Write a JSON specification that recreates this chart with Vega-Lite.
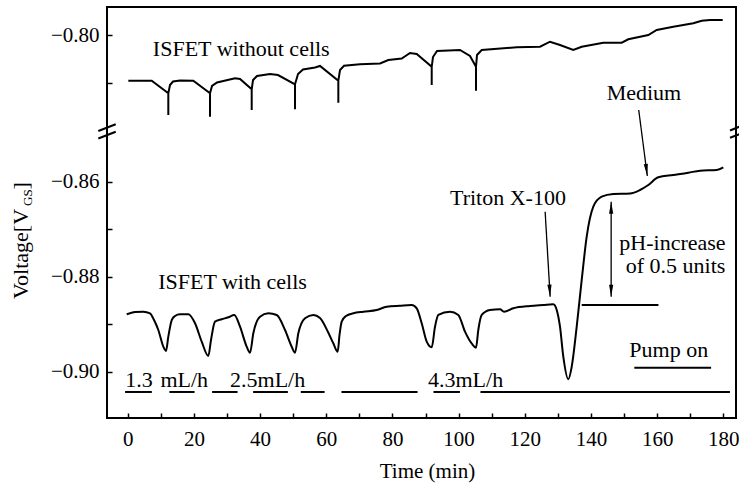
{
  "$schema": "https://vega.github.io/schema/vega-lite/v6.json",
  "width": 629,
  "height": 411,
  "autosize": {"type": "none"},
  "padding": {"left": 107, "top": 7, "right": 3, "bottom": 67},
  "config": {
    "font": "Liberation Serif",
    "view": {"stroke": "#000", "strokeWidth": 2},
    "axis": {
      "domain": false, "grid": false,
      "tickColor": "#000", "tickWidth": 1.5,
      "labelColor": "#000", "labelFontSize": 21, "labelFont": "Liberation Serif",
      "titleFont": "Liberation Serif", "titleColor": "#000", "titleFontSize": 21, "titleFontWeight": "normal"
    },
    "text": {"font": "Liberation Serif", "fontSize": 22, "color": "#000"}
  },
  "datasets": {
    "withoutCells": [
      {"t": 0.18, "v": -0.80956}, {"t": 7.25, "v": -0.80956}, {"t": 12.27, "v": -0.81221}, {"t": 12.27, "v": -0.81678},
      {"t": 12.27, "v": -0.81221}, {"t": 12.78, "v": -0.81046}, {"t": 13.69, "v": -0.80973}, {"t": 15.81, "v": -0.80952},
      {"t": 19.82, "v": -0.80956}, {"t": 24.87, "v": -0.81221}, {"t": 24.87, "v": -0.81714}, {"t": 24.87, "v": -0.81221},
      {"t": 25.48, "v": -0.81067}, {"t": 26.99, "v": -0.80994}, {"t": 32.43, "v": -0.80905}, {"t": 33.94, "v": -0.8092},
      {"t": 37.47, "v": -0.81137}, {"t": 37.47, "v": -0.81573}, {"t": 37.47, "v": -0.81137}, {"t": 37.87, "v": -0.80941},
      {"t": 39.08, "v": -0.80857}, {"t": 43.0, "v": -0.80815}, {"t": 45.42, "v": -0.80836}, {"t": 50.56, "v": -0.81032},
      {"t": 50.56, "v": -0.81558}, {"t": 50.56, "v": -0.81032}, {"t": 51.47, "v": -0.80815}, {"t": 52.98, "v": -0.8072},
      {"t": 56.61, "v": -0.80678}, {"t": 58.11, "v": -0.80646}, {"t": 63.65, "v": -0.80956}, {"t": 63.65, "v": -0.81419},
      {"t": 63.65, "v": -0.80956}, {"t": 64.16, "v": -0.80731}, {"t": 65.37, "v": -0.8064}, {"t": 70.2, "v": -0.80611},
      {"t": 76.25, "v": -0.80594}, {"t": 78.76, "v": -0.8052}, {"t": 82.8, "v": -0.80488}, {"t": 85.31, "v": -0.80373},
      {"t": 87.34, "v": -0.80394}, {"t": 91.87, "v": -0.80661}, {"t": 91.87, "v": -0.81046}, {"t": 91.87, "v": -0.80661},
      {"t": 92.26, "v": -0.80457}, {"t": 93.47, "v": -0.80331}, {"t": 100.42, "v": -0.80309}, {"t": 103.44, "v": -0.80436},
      {"t": 105.26, "v": -0.80661}, {"t": 105.26, "v": -0.81166}, {"t": 105.26, "v": -0.80661}, {"t": 105.56, "v": -0.80415},
      {"t": 106.98, "v": -0.80309}, {"t": 117.56, "v": -0.80253}, {"t": 124.6, "v": -0.8024}, {"t": 127.62, "v": -0.80135},
      {"t": 130.64, "v": -0.80204}, {"t": 134.66, "v": -0.80309}, {"t": 137.2, "v": -0.8024}, {"t": 143.73, "v": -0.80156},
      {"t": 149.29, "v": -0.80156}, {"t": 151.28, "v": -0.80084}, {"t": 157.33, "v": -0.79994}, {"t": 159.87, "v": -0.79888},
      {"t": 164.88, "v": -0.79819}, {"t": 170.93, "v": -0.79747}, {"t": 173.47, "v": -0.79693}, {"t": 175.98, "v": -0.79678},
      {"t": 179.81, "v": -0.79678}
    ],
    "withCells": [
      {"t": -0.3, "v": -0.88792}, {"t": 2.21, "v": -0.88743}, {"t": 4.71, "v": -0.88737}, {"t": 6.74, "v": -0.88771},
      {"t": 7.95, "v": -0.88912}, {"t": 9.25, "v": -0.89122}, {"t": 10.76, "v": -0.89474}, {"t": 11.57, "v": -0.89564},
      {"t": 12.27, "v": -0.89263}, {"t": 13.3, "v": -0.88912}, {"t": 14.29, "v": -0.88827}, {"t": 15.81, "v": -0.88792},
      {"t": 18.31, "v": -0.88792}, {"t": 20.34, "v": -0.88981}, {"t": 22.36, "v": -0.89368}, {"t": 24.36, "v": -0.89669},
      {"t": 25.17, "v": -0.89333}, {"t": 26.38, "v": -0.88947}, {"t": 28.41, "v": -0.88897}, {"t": 30.4, "v": -0.88855},
      {"t": 32.22, "v": -0.88806}, {"t": 33.94, "v": -0.89053}, {"t": 35.96, "v": -0.89474}, {"t": 36.96, "v": -0.896},
      {"t": 37.96, "v": -0.89192}, {"t": 39.98, "v": -0.88842}, {"t": 42.49, "v": -0.88771}, {"t": 45.03, "v": -0.88806},
      {"t": 47.54, "v": -0.89122}, {"t": 49.56, "v": -0.89474}, {"t": 50.56, "v": -0.896}, {"t": 51.56, "v": -0.89192},
      {"t": 53.58, "v": -0.88876}, {"t": 56.09, "v": -0.88806}, {"t": 58.11, "v": -0.88869}, {"t": 60.53, "v": -0.89164},
      {"t": 62.13, "v": -0.89402}, {"t": 63.46, "v": -0.89579}, {"t": 64.01, "v": -0.89227}, {"t": 64.67, "v": -0.88947},
      {"t": 65.97, "v": -0.88827}, {"t": 68.18, "v": -0.88771}, {"t": 71.2, "v": -0.88737}, {"t": 75.25, "v": -0.88701},
      {"t": 78.27, "v": -0.88632}, {"t": 82.29, "v": -0.88611}, {"t": 85.83, "v": -0.88596}, {"t": 87.34, "v": -0.88665},
      {"t": 88.85, "v": -0.88981}, {"t": 90.36, "v": -0.89368}, {"t": 91.87, "v": -0.89486}, {"t": 92.87, "v": -0.89053},
      {"t": 93.87, "v": -0.88806}, {"t": 97.4, "v": -0.88737}, {"t": 99.91, "v": -0.88806}, {"t": 101.93, "v": -0.89158},
      {"t": 104.05, "v": -0.89417}, {"t": 105.26, "v": -0.89495}, {"t": 105.95, "v": -0.89122}, {"t": 106.98, "v": -0.88806},
      {"t": 109.49, "v": -0.88701}, {"t": 112.51, "v": -0.88686}, {"t": 113.72, "v": -0.88737}, {"t": 116.53, "v": -0.88665},
      {"t": 121.58, "v": -0.88617}, {"t": 125.6, "v": -0.88596}, {"t": 128.62, "v": -0.88581}, {"t": 129.65, "v": -0.88701},
      {"t": 130.64, "v": -0.89053}, {"t": 131.64, "v": -0.89684}, {"t": 133.15, "v": -0.9016}, {"t": 134.18, "v": -0.89895},
      {"t": 135.69, "v": -0.89053}, {"t": 137.2, "v": -0.88069}, {"t": 138.71, "v": -0.87158}, {"t": 140.71, "v": -0.86526},
      {"t": 143.24, "v": -0.86316}, {"t": 146.75, "v": -0.86259}, {"t": 151.79, "v": -0.86248}, {"t": 154.81, "v": -0.86175},
      {"t": 157.33, "v": -0.86069}, {"t": 160.35, "v": -0.85907}, {"t": 164.88, "v": -0.85859}, {"t": 169.42, "v": -0.85811},
      {"t": 172.95, "v": -0.85768}, {"t": 178.0, "v": -0.85754}, {"t": 179.99, "v": -0.85697}
    ],
    "flowPeriods": [
      {"t": -0.8, "t2": 7.3, "v": -0.90427}, {"t": 12.6, "t2": 20.2, "v": -0.90427},
      {"t": 25.5, "t2": 33.2, "v": -0.90427}, {"t": 37.9, "t2": 48.4, "v": -0.90427},
      {"t": 52.3, "t2": 59.5, "v": -0.90427}, {"t": 64.6, "t2": 87.6, "v": -0.90427},
      {"t": 92.4, "t2": 100.4, "v": -0.90427}, {"t": 106.6, "t2": 182.0, "v": -0.90427}
    ],
    "levels": [
      {"name": "baseline", "t": 137.2, "t2": 160.4, "v": -0.88596},
      {"name": "pump", "t": 153.1, "t2": 176.3, "v": -0.89916}
    ],
    "arrows": [
      {"name": "triton", "t": 126.15, "v": -0.86632, "t2": 127.66, "v2": -0.88421},
      {"name": "medium", "t": 154.43, "v": -0.81573, "t2": 157.03, "v2": -0.8588},
      {"name": "span", "t": 146.1, "v": -0.86421, "t2": 146.1, "v2": -0.88421}
    ],
    "arrowTips": [
      {"name": "triton", "t": 127.66, "v": -0.88421},
      {"name": "medium", "t": 157.03, "v": -0.8588},
      {"name": "spanDown", "t": 146.1, "v": -0.88421},
      {"name": "spanUp", "t": 146.1, "v": -0.86421}
    ],
    "axisBreaks": [
      {"t": -8.88, "v": -0.84933, "t2": -3.63, "v2": -0.81874},
      {"t": -8.88, "v": -0.85091, "t2": -3.63, "v2": -0.84949},
      {"t": 182.02, "v": -0.84922, "t2": 184.83, "v2": -0.81924},
      {"t": 182.02, "v": -0.85074, "t2": 184.83, "v2": -0.85002}
    ],
    "notes": [
      {"label": "ISFET without cells", "t": 7.6, "v": -0.80436},
      {"label": "ISFET  with cells", "t": 9.2, "v": -0.88259},
      {"label": "Triton X-100", "t": 97.4, "v": -0.86491},
      {"label": "Medium", "t": 144.75, "v": -0.81362},
      {"label": "pH-increase", "t": 148.57, "v": -0.87438},
      {"label": "of 0.5 units", "t": 150.5, "v": -0.87928},
      {"label": "Pump on", "t": 151.59, "v": -0.89684},
      {"label": "1.3", "t": -0.73, "v": -0.90322},
      {"label": "mL/h", "t": 9.88, "v": -0.90322},
      {"label": "2.5mL/h", "t": 30.92, "v": -0.90322},
      {"label": "4.3mL/h", "t": 90.75, "v": -0.90322}
    ],
    "yTitle": [
      {"part": "main", "label": "Voltage[V", "t": -30.13, "v": -0.88469},
      {"part": "sub", "label": "GS", "t": -28.92, "v": -0.86512},
      {"part": "close", "label": "]", "t": -30.13, "v": -0.86164}
    ]
  },
  "encoding": {
    "x": {
      "field": "t", "type": "quantitative",
      "scale": {"domain": [-6.26, 183.83], "nice": false, "zero": false},
      "axis": {
        "title": "Time (min)",
        "values": [0, 10, 20, 30, 40, 50, 60, 70, 80, 90, 100, 110, 120, 130, 140, 150, 160, 170, 180],
        "labelExpr": "datum.value % 20 === 0 ? datum.label : ''",
        "tickSize": -5, "labelPadding": 15, "labelFlush": false, "labelOverlap": false,
        "titleX": 320, "titleY": 59, "titleBaseline": "alphabetic"
      }
    },
    "y": {
      "field": "v", "type": "quantitative",
      "scale": {"domain": [-0.90975, -0.84912, -0.81994, -0.79404], "range": [411, 123, 123, 0], "nice": false, "zero": false},
      "axis": {
        "title": null,
        "values": [-0.9, -0.89, -0.88, -0.87, -0.86, -0.81, -0.8],
        "format": ".2f",
        "labelExpr": "round(datum.value * 100) % 2 === 0 ? datum.label : ''",
        "tickSize": -5, "labelPadding": 13, "labelOverlap": false
      }
    }
  },
  "layer": [
    {
      "data": {"name": "withoutCells"},
      "mark": {"type": "line", "color": "#000", "strokeWidth": 2, "interpolate": "linear"},
      "encoding": {"order": {"value": null}}
    },
    {
      "data": {"name": "withCells"},
      "mark": {"type": "line", "color": "#000", "strokeWidth": 2, "interpolate": "monotone"},
      "encoding": {"order": {"value": null}}
    },
    {
      "data": {"name": "flowPeriods"},
      "mark": {"type": "rule", "color": "#000", "strokeWidth": 2},
      "encoding": {"x2": {"field": "t2"}}
    },
    {
      "data": {"name": "levels"},
      "mark": {"type": "rule", "color": "#000", "strokeWidth": 2},
      "encoding": {"x2": {"field": "t2"}}
    },
    {
      "data": {"name": "arrows"},
      "mark": {"type": "rule", "color": "#000", "strokeWidth": 1.3},
      "encoding": {"x2": {"field": "t2"}, "y2": {"field": "v2"}}
    },
    {
      "data": {"name": "arrowTips"},
      "transform": [{"filter": "datum.name === 'triton'"}],
      "mark": {"type": "point", "shape": "M0,0L-0.35,-2L0.35,-2Z", "filled": true, "color": "#000", "opacity": 1, "size": 144, "angle": -3.4},
      "encoding": {}
    },
    {
      "data": {"name": "arrowTips"},
      "transform": [{"filter": "datum.name === 'medium'"}],
      "mark": {"type": "point", "shape": "M0,0L-0.35,-2L0.35,-2Z", "filled": true, "color": "#000", "opacity": 1, "size": 144, "angle": -7.4},
      "encoding": {}
    },
    {
      "data": {"name": "arrowTips"},
      "transform": [{"filter": "datum.name === 'spanDown'"}],
      "mark": {"type": "point", "shape": "M0,0L-0.35,-2L0.35,-2Z", "filled": true, "color": "#000", "opacity": 1, "size": 144, "angle": 0},
      "encoding": {}
    },
    {
      "data": {"name": "arrowTips"},
      "transform": [{"filter": "datum.name === 'spanUp'"}],
      "mark": {"type": "point", "shape": "M0,0L-0.35,-2L0.35,-2Z", "filled": true, "color": "#000", "opacity": 1, "size": 144, "angle": 180},
      "encoding": {}
    },
    {
      "data": {"name": "axisBreaks"},
      "mark": {"type": "rule", "color": "#000", "strokeWidth": 2},
      "encoding": {"x2": {"field": "t2"}, "y2": {"field": "v2"}}
    },
    {
      "data": {"name": "notes"},
      "mark": {"type": "text", "align": "left", "baseline": "alphabetic", "font": "Liberation Serif", "fontSize": 22},
      "encoding": {"text": {"field": "label"}}
    },
    {
      "data": {"name": "yTitle"},
      "transform": [{"filter": "datum.part !== 'sub'"}],
      "mark": {"type": "text", "align": "left", "baseline": "alphabetic", "font": "Liberation Serif", "fontSize": 22, "angle": 270},
      "encoding": {"text": {"field": "label"}}
    },
    {
      "data": {"name": "yTitle"},
      "transform": [{"filter": "datum.part === 'sub'"}],
      "mark": {"type": "text", "align": "left", "baseline": "alphabetic", "font": "Liberation Serif", "fontSize": 13, "angle": 270},
      "encoding": {"text": {"field": "label"}}
    }
  ]
}
